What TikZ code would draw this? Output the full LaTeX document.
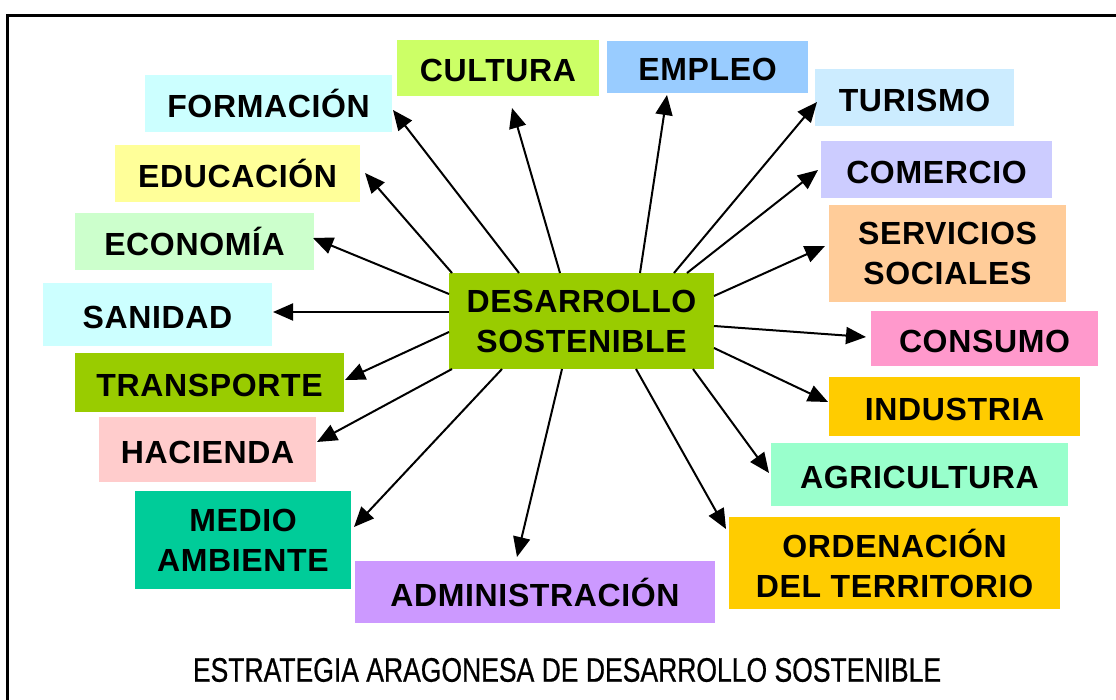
\documentclass[tikz,border=0pt]{standalone}
\usepackage{fontspec}
\setmainfont{Liberation Sans}
\newfontfamily\boxfont{Liberation Sans}[LetterSpace=2]
\newfontfamily\titlefont{Liberation Sans}[FakeStretch=0.78,FakeBold=0.6]
\usetikzlibrary{arrows.meta}
\definecolor{cCultura}{HTML}{CCFF66}
\definecolor{cEmpleo}{HTML}{99CCFF}
\definecolor{cTurismo}{HTML}{CCECFF}
\definecolor{cFormacion}{HTML}{CCFFFF}
\definecolor{cEducacion}{HTML}{FFFF99}
\definecolor{cComercio}{HTML}{CCCCFF}
\definecolor{cEconomia}{HTML}{CCFFCC}
\definecolor{cServicios}{HTML}{FFCC99}
\definecolor{cSanidad}{HTML}{CCFFFF}
\definecolor{cDesarrollo}{HTML}{99CC00}
\definecolor{cConsumo}{HTML}{FF99CC}
\definecolor{cTransporte}{HTML}{99CC00}
\definecolor{cIndustria}{HTML}{FFCC00}
\definecolor{cHacienda}{HTML}{FFCCCC}
\definecolor{cAgricultura}{HTML}{99FFCC}
\definecolor{cMedio}{HTML}{00CC99}
\definecolor{cOrdenacion}{HTML}{FFCC00}
\definecolor{cAdmin}{HTML}{CC99FF}
\tikzset{
  lbl/.style={draw=none, inner sep=0pt, font=\boxfont\bfseries\fontsize{32}{40}\selectfont, align=center},
  one/.style={lbl, text height=28pt, text depth=0pt},
  arr/.style={line width=2pt, -{Triangle[length=20pt,width=17pt]}},
}
\begin{document}
\begin{tikzpicture}[x=1pt,y=-1pt]
\useasboundingbox (0,0) rectangle (1116,700);
\begin{scope}
\clip (0,0) rectangle (1116,700);
\draw[line width=3pt] (7.5,730) -- (7.5,15.5) -- (1140,15.5);
\end{scope}

\node[one, fill=cFormacion, minimum width=247pt, minimum height=57pt] (formacion) at (268.5,103.5) {FORMACIÓN};
\node[one, fill=cCultura, minimum width=202pt, minimum height=56pt] (cultura) at (498,68) {CULTURA};
\node[one, fill=cEmpleo, minimum width=201pt, minimum height=52pt] (empleo) at (707.5,67) {EMPLEO};
\node[one, fill=cTurismo, minimum width=199pt, minimum height=57pt] (turismo) at (914.5,97.5) {TURISMO};
\node[one, fill=cEducacion, minimum width=245pt, minimum height=57pt] (educacion) at (237.5,173.5) {EDUCACIÓN};
\node[one, fill=cComercio, minimum width=231pt, minimum height=57pt] (comercio) at (936.5,169.5) {COMERCIO};
\node[one, fill=cEconomia, minimum width=239pt, minimum height=57pt] (economia) at (194.5,241.5) {ECONOMÍA};
\node[lbl, fill=cServicios, minimum width=237pt, minimum height=97pt] (servicios) at (947.5,253.5) {SERVICIOS\\SOCIALES};
\node[one, fill=cSanidad, minimum width=229pt, minimum height=63pt] (sanidad) at (157.5,314.5) {SANIDAD};
\node[lbl, fill=cDesarrollo, minimum width=265pt, minimum height=96pt] (desarrollo) at (581.5,321) {DESARROLLO\\SOSTENIBLE};
\node[one, fill=cConsumo, minimum width=227pt, minimum height=55pt] (consumo) at (984.5,338.5) {CONSUMO};
\node[one, fill=cTransporte, minimum width=269pt, minimum height=59pt] (transporte) at (209.5,382.5) {TRANSPORTE};
\node[one, fill=cIndustria, minimum width=251pt, minimum height=59pt] (industria) at (954.5,406.5) {INDUSTRIA};
\node[one, fill=cHacienda, minimum width=217pt, minimum height=65pt] (hacienda) at (207.5,449.5) {HACIENDA};
\node[one, fill=cAgricultura, minimum width=297pt, minimum height=63pt] (agricultura) at (919.5,474.5) {AGRICULTURA};
\node[lbl, fill=cMedio, minimum width=216pt, minimum height=98pt] (medio) at (243,540) {MEDIO\\AMBIENTE};
\node[lbl, fill=cOrdenacion, minimum width=331pt, minimum height=92pt] (ordenacion) at (894.5,563) {ORDENACIÓN\\DEL TERRITORIO};
\node[one, fill=cAdmin, minimum width=360pt, minimum height=62pt] (admin) at (535,592) {ADMINISTRACIÓN};

\node[inner sep=0pt, font=\titlefont\fontsize{34}{40}\selectfont] (titulo) at (567,670) {ESTRATEGIA ARAGONESA DE DESARROLLO SOSTENIBLE};

% start points on the central box and arrow tips
\coordinate (sFor) at (519,273);   \coordinate (tFor) at (393,110);
\coordinate (sCul) at (560,273);   \coordinate (tCul) at (512,108);
\coordinate (sEmp) at (640,273);   \coordinate (tEmp) at (667,95);
\coordinate (sTur) at (674,273);   \coordinate (tTur) at (817,102);
\coordinate (sCom) at (687,273);   \coordinate (tCom) at (818,170);
\coordinate (sSer) at (714,296);   \coordinate (tSer) at (825,246);
\coordinate (sCon) at (714,326);   \coordinate (tCon) at (866,337);
\coordinate (sInd) at (714,348);   \coordinate (tInd) at (828,402);
\coordinate (sAgr) at (693,369);   \coordinate (tAgr) at (769,473);
\coordinate (sOrd) at (636,369);   \coordinate (tOrd) at (726,529);
\coordinate (sAdm) at (562,369);   \coordinate (tAdm) at (517,557);
\coordinate (sMed) at (502,369);   \coordinate (tMed) at (354,527);
\coordinate (sHac) at (452,369);   \coordinate (tHac) at (317,442);
\coordinate (sTra) at (449,332);   \coordinate (tTra) at (345,380);
\coordinate (sSan) at (449,312);   \coordinate (tSan) at (273,312);
\coordinate (sEco) at (449,294);   \coordinate (tEco) at (313,238);
\coordinate (sEdu) at (452,273);   \coordinate (tEdu) at (365,173);

\foreach \n in {For,Cul,Emp,Tur,Com,Ser,Con,Ind,Agr,Ord,Adm,Med,Hac,Tra,San,Eco,Edu}
  \draw[arr] (s\n) -- (t\n);
\end{tikzpicture}
\end{document}
